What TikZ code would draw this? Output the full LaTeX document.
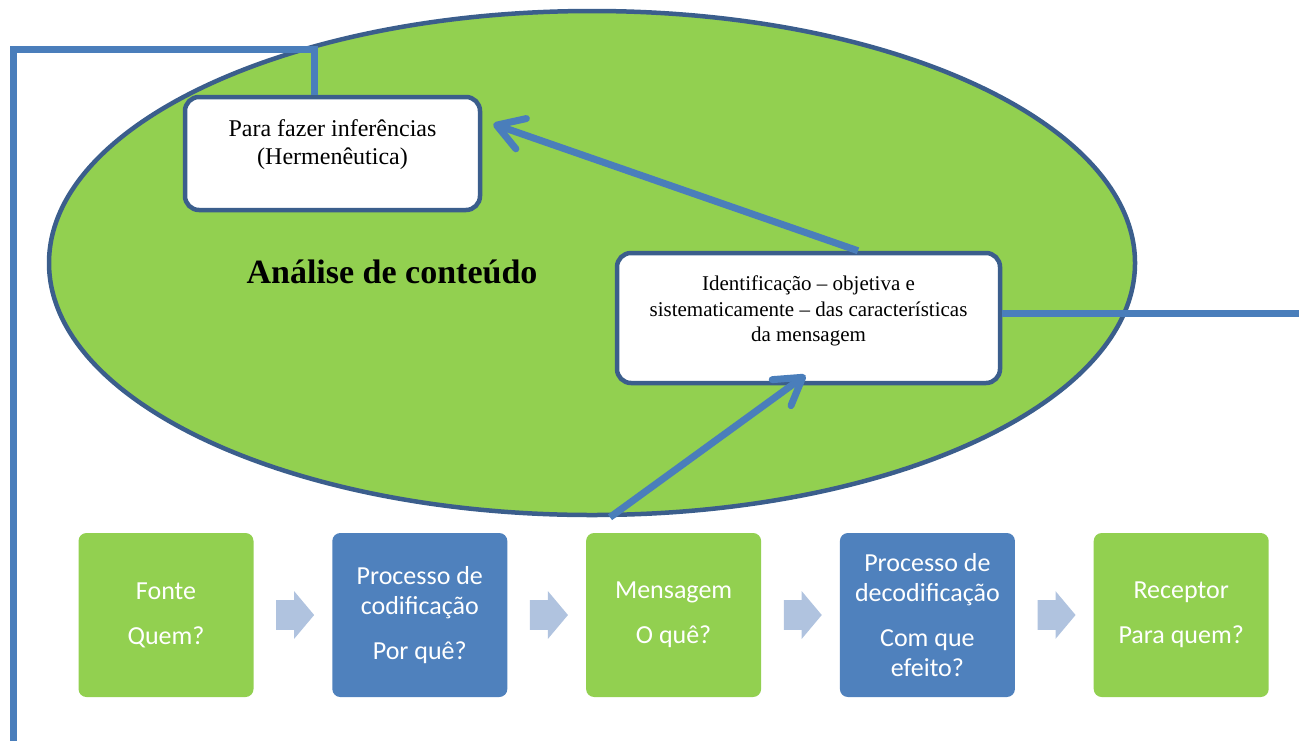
\documentclass[tikz,border=0pt]{standalone}
\usepackage{fontspec}
\setmainfont{Liberation Serif}
\newfontfamily\calibri{Carlito}
\usepackage{xcolor}
\usetikzlibrary{arrows.meta, positioning, calc, shapes.geometric, shapes.arrows}

\definecolor{leafgreen}{HTML}{92D050}
\definecolor{rimblue}{HTML}{3B5E8C}
\definecolor{linkblue}{HTML}{4A7EBB}
\definecolor{stepblue}{HTML}{4F81BD}
\definecolor{chevblue}{HTML}{B0C3DF}

\tikzset{
  textbox/.style={draw=rimblue, line width=2.25pt, fill=white, rounded corners=7pt, inner sep=0pt},
  link/.style={draw=linkblue, line width=3.5pt},
  barb/.style={-{Straight Barb[length=13pt, width=16pt, round]}},
  flowbox/.style={rounded corners=4pt, minimum width=87.5pt, minimum height=82pt, inner sep=2pt,
    text=white, align=center, font=\calibri\fontsize{13}{15}\selectfont},
  chevron/.style={single arrow, fill=chevblue, inner xsep=0pt, inner ysep=7.25pt,
    minimum height=19pt, single arrow head extend=4.5pt, single arrow tip angle=100, xshift=-2pt}
}

\begin{document}
\begin{tikzpicture}[x=0.5pt, y=-0.5pt]
\useasboundingbox (0,0) rectangle (1299,740);

% --- Big ellipse ---
\node[ellipse, draw=rimblue, line width=2.25pt, fill=leafgreen, minimum width=543pt,
  minimum height=252pt, inner sep=0pt] (ell) at (592,263) {};
\node[font=\bfseries\fontsize{17}{20}\selectfont] (title) at (392,272) {Análise de conteúdo};

% --- Boxes inside the ellipse ---
\node[textbox, minimum width=147.5pt, minimum height=56.5pt,
  label={[font=\fontsize{12}{14}\selectfont, align=center, yshift=4.25pt]center:{Para fazer inferências\\(Hermenêutica)}}]
  (infer) at (332.5,153.5) {};
\node[textbox, minimum width=191.5pt, minimum height=65pt,
  label={[font=\fontsize{10.5}{12.75}\selectfont, align=center, yshift=3.5pt]center:{Identificação -- objetiva e\\sistematicamente -- das características\\da mensagem}}]
  (ident) at (808.5,318) {};

% --- Flow of communication ---
\node[flowbox, fill=leafgreen] (fonte) at (166,615) {Fonte\\[7.5pt]Quem?};
\node[flowbox, fill=stepblue, right=39pt of fonte] (codif) {Processo de\\codificação\\[7.5pt]Por quê?};
\node[flowbox, fill=leafgreen, right=39pt of codif] (msg) {Mensagem\\[7.5pt]O quê?};
\node[flowbox, fill=stepblue, right=39pt of msg] (decod) {Processo de\\decodificação\\[7.5pt]Com que\\efeito?};
\node[flowbox, fill=leafgreen, right=39pt of decod] (recep) {Receptor\\[7.5pt]Para quem?};

\foreach \a/\b in {fonte/codif, codif/msg, msg/decod, decod/recep}
  \node[chevron] (chev-\a) at ($(\a)!0.5!(\b)$) {};

% --- Connectors ---
\coordinate (bottomleft) at (13,745);
\coordinate (topleft) at (13,49);
\coordinate (topright) at (314,49);
\coordinate (rightedge) at (1305,313);
\draw[link] (bottomleft) -- (topleft) -- (topright) -- (topright |- infer.north);
\draw[link] (ident.east |- rightedge) -- (rightedge);

% arrows
\draw[link, barb] ($(ident.north)+(49.5,0)$) -- ($(infer.east)+(11,-29.5)$);
\draw[link, barb] ($(ell.south)+(18,0)$) -- ($(ident.south)+(-3,-10)$);

\end{tikzpicture}
\end{document}
